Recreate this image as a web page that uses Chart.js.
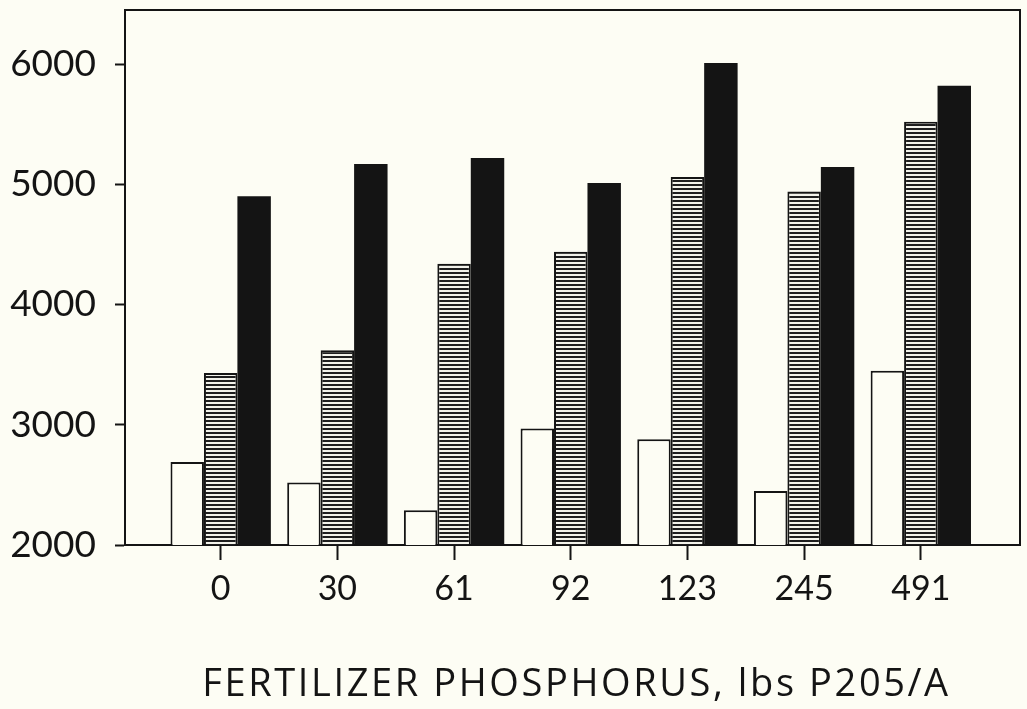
<!DOCTYPE html>
<html>
<head>
<meta charset="utf-8">
<script src="https://cdn.jsdelivr.net/npm/chart.js@4"></script>
<style>
  html, body { margin: 0; padding: 0; background: #fdfdf4; }
  #wrap { width: 1027px; height: 709px; }
</style>
</head>
<body>
<div id="wrap"><canvas id="chart" width="1027" height="709"></canvas></div>
<script>
// Data
const categories = ['0', '30', '61', '92', '123', '245', '491'];
const openBars = [2690, 2520, 2290, 2970, 2880, 2450, 3450];
const stripedBars = [3430, 3620, 4340, 4440, 5060, 4940, 5520];
const blackBars = [4900, 5170, 5220, 5010, 6010, 5145, 5820];
const yTicks = [2000, 3000, 4000, 5000, 6000];
const xTitle = 'FERTILIZER PHOSPHORUS, lbs P205/A';

const ink = '#141414';
const paper = '#fdfdf4';

// horizontal stripe fill for the middle bars
function stripes() {
    const c = document.createElement('canvas');
    c.width = 4;
    c.height = 4;
    const g = c.getContext('2d');
    g.fillStyle = '#f2f2ea';
    g.fillRect(0, 0, 4, 4);
    g.fillStyle = '#1e1e1e';
    g.fillRect(0, 0, 4, 2);
    return g.createPattern(c, 'repeat');
}

const toPoints = arr => arr.map((v, i) => ({ x: i, y: v }));

// top and right sides of the frame, plus the spaced-out axis title
const frame = {
    id: 'frame',
    afterDraw(chart) {
        const { ctx, chartArea: a } = chart;
        ctx.save();
        ctx.strokeStyle = ink;
        ctx.lineWidth = 2;
        ctx.beginPath();
        ctx.moveTo(a.left, a.top);
        ctx.lineTo(a.right, a.top);
        ctx.lineTo(a.right, a.bottom);
        ctx.stroke();

        ctx.font = '38px "Open Sans"';
        ctx.letterSpacing = '2.6px';
        ctx.fillStyle = ink;
        ctx.textAlign = 'center';
        ctx.textBaseline = 'middle';
        ctx.fillText(xTitle, (a.left + a.right) / 2 + 4, 685);
        ctx.restore();
    }
};

new Chart(document.getElementById('chart'), {
    type: 'bar',
    data: {
        datasets: [
            { data: toPoints(openBars), backgroundColor: paper, borderColor: ink, borderWidth: 2 },
            { data: toPoints(stripedBars), backgroundColor: stripes(), borderColor: ink, borderWidth: 2 },
            { data: toPoints(blackBars), backgroundColor: ink, borderColor: ink, borderWidth: 0 }
        ]
    },
    options: {
        responsive: false,
        animation: false,
        categoryPercentage: 0.86,
        barPercentage: 1.0,
        layout: { padding: { top: 10, right: 7, left: 0, bottom: 0 } },
        plugins: {
            legend: { display: false },
            tooltip: { enabled: false }
        },
        scales: {
            x: {
                type: 'linear',
                offset: false,
                min: -0.82,
                max: 6.85,
                afterBuildTicks: s => { s.ticks = categories.map((_, i) => ({ value: i })); },
                afterFit: s => { s.height = 164; s.paddingLeft = 0; s.paddingRight = 0; },
                ticks: {
                    callback: v => categories[v],
                    color: ink,
                    font: { family: 'Lato', size: 34 },
                    padding: 9,
                    maxRotation: 0
                },
                grid: {
                    offset: false,
                    drawOnChartArea: false,
                    drawTicks: true,
                    tickLength: 15,
                    tickWidth: 2,
                    color: ink
                },
                border: { display: true, color: ink, width: 2 }
            },
            y: {
                min: 2000,
                max: 6450,
                afterBuildTicks: s => { s.ticks = yTicks.map(v => ({ value: v })); },
                afterFit: s => { s.width = 125; s.paddingTop = 0; s.paddingBottom = 0; },
                ticks: {
                    callback: v => String(v),
                    color: ink,
                    font: { family: 'Lato', size: 37 },
                    padding: 19
                },
                grid: {
                    drawOnChartArea: false,
                    drawTicks: true,
                    tickLength: 10,
                    tickWidth: 2,
                    color: ink
                },
                border: { display: true, color: ink, width: 2 }
            }
        }
    },
    plugins: [frame]
});
</script>
</body>
</html>
